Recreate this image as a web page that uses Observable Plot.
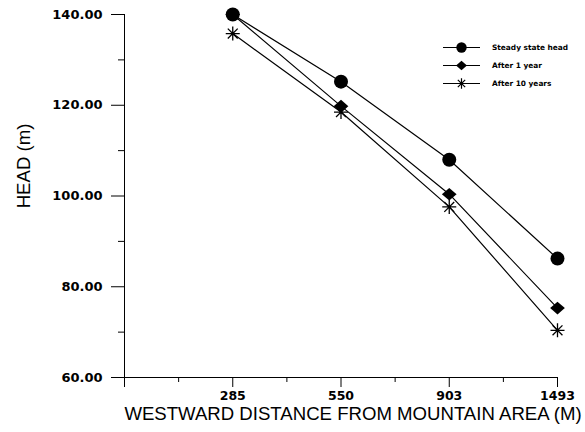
<!DOCTYPE html>
<html><head><meta charset="utf-8">
<script src="https://cdn.jsdelivr.net/npm/d3@7"></script>
<script src="https://cdn.jsdelivr.net/npm/@observablehq/plot@0.6"></script>
<style>body{margin:0;background:#fff}#c{position:relative;width:585px;height:432px}#c svg{display:block}</style>
</head><body><div id="c"></div>
<script>
const distances = ["285", "550", "903", "1493"];
const steadyState = [140, 125.2, 108, 86.2];
const after1Year = [140, 119.8, 100.4, 75.3];
const after10Years = [135.8, 118.5, 97.6, 70.4];
const seriesNames = ["Steady state head", "After 1 year", "After 10 years"];
const yTicks = [60, 80, 100, 120, 140];
const yMinorTicks = [70, 90, 110, 130];
const xTicks = [0, 1, 2, 3, 4];
const xMinorTicks = [0.5, 1.5, 2.5, 3.5];
const xTitle = "WESTWARD DISTANCE FROM MOUNTAIN AREA (M)";
const yTitle = "HEAD (m)";

const diamondSym = {draw(ctx, size){const r = Math.sqrt(size/Math.PI); ctx.moveTo(0,-r*0.9); ctx.lineTo(r*1.05,0); ctx.lineTo(0,r*0.9); ctx.lineTo(-r*1.05,0); ctx.closePath();}};
const starSym = {draw(ctx, size){const r = Math.sqrt(size/Math.PI); for(let k=0;k<4;k++){const a=k*Math.PI/4; ctx.moveTo(-r*Math.cos(a), -r*Math.sin(a)); ctx.lineTo(r*Math.cos(a), r*Math.sin(a));}}};

const seriesValues = [steadyState, after1Year, after10Years];
const rows = seriesValues.map((vals, s) => distances.map((d, i) => ({x: i + 1, y: vals[i], s: seriesNames[s]})));

const tickFont = {fontFamily: "DejaVu Sans", fontWeight: "bold", fontSize: 13};

const plot = Plot.plot({
  width: 585, height: 432,
  marginLeft: 124, marginRight: 28, marginTop: 14, marginBottom: 55,
  x: {domain: [0, 4], label: null},
  y: {domain: [60, 140], label: null},
  marks: [
    Plot.ruleY([60], {stroke: "#000", strokeWidth: 1}),
    Plot.ruleX([0], {stroke: "#000", strokeWidth: 1}),
    Plot.axisY(yTicks, {tickSize: 13, tickPadding: 9, tickFormat: d3.format(".2f"), stroke: "#000", fill: "#000", label: null, ...tickFont}),
    Plot.axisY(yMinorTicks, {tickSize: 6, tickFormat: () => "", stroke: "#000", label: null}),
    Plot.axisX(xTicks, {tickSize: 10, tickPadding: 4, tickFormat: i => i === 0 ? "" : distances[i - 1], stroke: "#000", fill: "#000", label: null, ...tickFont, fontSize: 12.5}),
    Plot.axisX(xMinorTicks, {tickSize: 5, tickFormat: () => "", stroke: "#000", label: null}),
    ...rows.map(r => Plot.line(r, {x: "x", y: "y", stroke: "#000", strokeWidth: 1.2})),
    Plot.dot(rows[0], {x: "x", y: "y", r: 7, symbol: "circle", fill: "#000", stroke: "none"}),
    Plot.dot(rows[1], {x: "x", y: "y", r: 7, symbol: diamondSym, fill: "#000", stroke: "none"}),
    Plot.dot(rows[2], {x: "x", y: "y", r: 7, symbol: starSym, fill: "none", stroke: "#000", strokeWidth: 1.3}),
    Plot.text([xTitle], {frameAnchor: "bottom", lineAnchor: "middle", textAnchor: "middle", dx: 12, dy: 37, fontSize: 18.6, fontFamily: "Liberation Sans", fontWeight: "normal", fill: "#000"}),
    Plot.text([yTitle], {frameAnchor: "left", textAnchor: "middle", lineAnchor: "middle", dx: -100, dy: -30, rotate: -90, fontSize: 18.6, fontFamily: "Liberation Sans", fontWeight: "normal", fill: "#000"})
  ]
});
const c = document.getElementById("c");
c.appendChild(plot);

// legend overlay
const leg = d3.select(c).append("svg")
  .attr("width", 585).attr("height", 432)
  .style("position", "absolute").style("left", 0).style("top", 0).style("pointer-events", "none");
const legSyms = [d3.symbolCircle, diamondSym, starSym];
seriesNames.forEach((name, i) => {
  const g = leg.append("g").attr("transform", `translate(0,${47.5 + i * 18})`);
  g.append("line").attr("x1", 443).attr("x2", 480).attr("y1", 0).attr("y2", 0).attr("stroke", "#000").attr("stroke-width", 1.2);
  const p = d3.symbol().type(legSyms[i]).size(Math.PI * 5.2 * 5.2)();
  const path = g.append("path").attr("d", p).attr("transform", "translate(461.5,0)");
  if (i === 2) path.attr("fill", "none").attr("stroke", "#000").attr("stroke-width", 1.2);
  else path.attr("fill", "#000");
  g.append("text").attr("x", 492).attr("y", 0).attr("dy", "0.35em")
    .attr("font-family", "DejaVu Sans").attr("font-weight", "bold").attr("font-size", 7.4)
    .text(name);
});
</script>
</body></html>
